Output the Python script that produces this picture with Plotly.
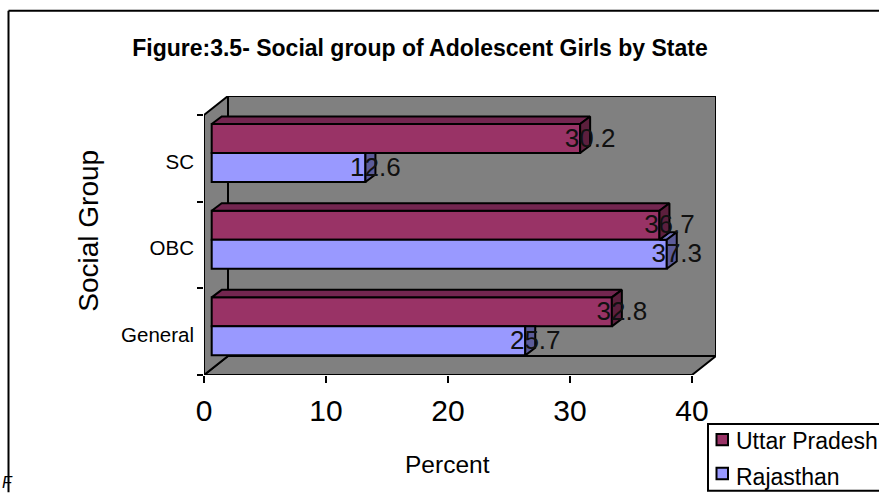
import plotly.graph_objects as go

# Chart content
categories = ["General", "OBC", "SC"]
uttar_pradesh = [32.8, 36.7, 30.2]
rajasthan = [25.7, 37.3, 12.6]
value_ticks = [0, 10, 20, 30, 40]

TITLE = "Figure:3.5- Social group of Adolescent Girls by State"
FONT = "Liberation Sans, Arial, sans-serif"

# Page and plot box in pixels
W, H = 879, 493
LEFT, RIGHT, TOP, BOTTOM = 204, 716, 96, 375.5
PX_X = 12.2      # pixels per percent
PX_Y = 86.67     # pixels per category band

# Pseudo-3D offsets, expressed in axis units
WALL_DX, WALL_DY = 24 / PX_X, 19 / PX_Y
BAR_DX, BAR_DY = 10 / PX_X, 7.5 / PX_Y
BAR_BASE = 7.7 / PX_X
BAR_W = 29 / PX_Y
UP_OFFSET = 5.3 / PX_Y
RJ_OFFSET = UP_OFFSET - BAR_W

X_MAX = (RIGHT - LEFT) / PX_X
Y_MIN = -0.5
Y_MAX = 2.5 + WALL_DY

UP_COLORS = dict(front="#993366", top="#732650", side="#5c1f3d")
RJ_COLORS = dict(front="#9999ff", top="#7373bf", side="#5c5c99")
WALL = "#808080"
EDGE = dict(color="black", width=2)


def px(x):
    return (x - LEFT) / (RIGHT - LEFT)


def py(y):
    return (BOTTOM - y) / (BOTTOM - TOP)


def path(points):
    return "M" + "L".join(f"{x},{y}" for x, y in points) + "Z"


def face(points, color):
    xs, ys = zip(*(points + points[:1]))
    return go.Scatter(
        x=xs, y=ys, yaxis="y2", mode="lines", fill="toself", fillcolor=color,
        line=EDGE, hoverinfo="skip", showlegend=False,
    )


fig = go.Figure()

series = [
    ("Uttar Pradesh", uttar_pradesh, UP_OFFSET, UP_COLORS),
    ("Rajasthan", rajasthan, RJ_OFFSET, RJ_COLORS),
]
for name, vals, offset, colors in series:
    fig.add_trace(go.Bar(
        name=name, y=categories, x=vals, base=BAR_BASE, orientation="h",
        width=BAR_W, offset=offset, showlegend=False,
        marker=dict(color=colors["front"], line=EDGE),
    ))

# Depth faces: the lower series first, so the upper one sits in front of it
for i, (up, rj) in enumerate(zip(uttar_pradesh, rajasthan)):
    rj_end = BAR_BASE + rj
    up_end = BAR_BASE + up
    rj_low = i + RJ_OFFSET
    rj_high = rj_low + BAR_W
    up_low = i + UP_OFFSET
    up_high = up_low + BAR_W
    if rj > up:
        # only the part of the top face clear of the upper bar shows
        fig.add_trace(face([(up_end, rj_high), (rj_end, rj_high),
                            (rj_end + BAR_DX, rj_high + BAR_DY),
                            (up_end + BAR_DX, rj_high + BAR_DY)], RJ_COLORS["top"]))
        side_top = rj_high + BAR_DY
        side = [(rj_end, rj_low), (rj_end + BAR_DX, rj_low + BAR_DY),
                (rj_end + BAR_DX, side_top), (rj_end, rj_high)]
    else:
        side = [(rj_end, rj_low), (rj_end + BAR_DX, rj_low + BAR_DY),
                (rj_end + BAR_DX, rj_high), (rj_end, rj_high)]
    fig.add_trace(face(side, RJ_COLORS["side"]))
    fig.add_trace(face([(BAR_BASE, up_high), (up_end, up_high),
                        (up_end + BAR_DX, up_high + BAR_DY),
                        (BAR_BASE + BAR_DX, up_high + BAR_DY)], UP_COLORS["top"]))
    fig.add_trace(face([(up_end, up_low), (up_end + BAR_DX, up_low + BAR_DY),
                        (up_end + BAR_DX, up_high + BAR_DY), (up_end, up_high)],
                       UP_COLORS["side"]))

# Value labels centred on the depth of each bar end
label_x, label_y, label_text = [], [], []
for vals, offset in [(uttar_pradesh, UP_OFFSET), (rajasthan, RJ_OFFSET)]:
    for i, v in enumerate(vals):
        label_x.append(BAR_BASE + v + BAR_DX)
        label_y.append(i + offset + BAR_W / 2 - 1.5 / PX_Y)
        label_text.append(str(v))
fig.add_trace(go.Scatter(
    x=label_x, y=label_y, yaxis="y2", mode="text", text=label_text,
    textposition="middle center", cliponaxis=False,
    textfont=dict(family=FONT, size=26, color="#111111"),
    hoverinfo="skip", showlegend=False,
))

# Walls and floor of the box, behind everything
wall_line = dict(color="black", width=2)
wall_shapes = [
    [(0, Y_MIN), (WALL_DX, Y_MIN + WALL_DY), (X_MAX, Y_MIN + WALL_DY),
     (X_MAX - WALL_DX, Y_MIN)],
    [(0, Y_MIN), (WALL_DX, Y_MIN + WALL_DY), (WALL_DX, Y_MAX), (0, 2.5)],
    [(WALL_DX, Y_MIN + WALL_DY), (X_MAX, Y_MIN + WALL_DY), (X_MAX, Y_MAX),
     (WALL_DX, Y_MAX)],
]
shapes = [
    dict(type="path", path=path(p), xref="x", yref="y2", fillcolor=WALL,
         line=wall_line, layer="below")
    for p in wall_shapes
]

# Outer frame: left and top edges only reach the page
for x0, y0, x1, y1 in [(8.5, 10.5, 8.5, H), (8.5, 10.5, W, 10.5)]:
    shapes.append(dict(type="line", xref="paper", yref="paper",
                       x0=px(x0), x1=px(x1), y0=py(y0), y1=py(y1),
                       line=dict(color="black", width=2)))

annotations = [
    dict(text="Percent", xref="paper", yref="paper", x=px(447), y=py(465),
         xanchor="center", yanchor="middle", showarrow=False,
         font=dict(family=FONT, size=24.5, color="black")),
    dict(text="Social Group", xref="paper", yref="paper", x=px(89), y=py(231),
         xanchor="center", yanchor="middle", textangle=-90, showarrow=False,
         font=dict(family=FONT, size=28, color="black")),
    dict(text="<i>F</i>", xref="paper", yref="paper", x=px(0), y=py(483),
         xanchor="left", yanchor="middle", showarrow=False,
         font=dict(family=FONT, size=16, color="black")),
]

# Legend box running off the right edge of the page
shapes.append(dict(type="rect", xref="paper", yref="paper", x0=px(708), x1=px(900),
                   y0=py(424.5), y1=py(491.5), fillcolor="white",
                   line=dict(color="black", width=2), layer="above"))
for (name, _, _, colors), row_top, text_y in zip(series, (434.5, 468.5), (442, 478)):
    shapes.append(dict(type="rect", xref="paper", yref="paper", x0=px(716.5), x1=px(728),
                       y0=py(row_top), y1=py(row_top + 11.5), fillcolor=colors["front"],
                       line=dict(color="black", width=2), layer="above"))
    annotations.append(dict(text=name, xref="paper", yref="paper", x=px(734), y=py(text_y),
                            xanchor="left", yanchor="middle", showarrow=False,
                            font=dict(family=FONT, size=23, color="black")))

fig.update_layout(
    width=W, height=H,
    margin=dict(l=LEFT, r=W - RIGHT, t=TOP, b=H - BOTTOM, autoexpand=False),
    paper_bgcolor="white", plot_bgcolor="rgba(0,0,0,0)",
    barmode="overlay", showlegend=False,
    font=dict(family=FONT, color="black"),
    title=dict(text=f"<b>{TITLE}</b>", x=420 / W, xanchor="center",
               y=1 - 48 / H, yanchor="middle",
               font=dict(family=FONT, size=23, color="black")),
    xaxis=dict(range=[0, X_MAX], tickvals=value_ticks, ticks="outside",
               ticklen=7, tickwidth=2, tickcolor="black", showgrid=False,
               zeroline=False, showline=False, ticklabelstandoff=2,
               tickfont=dict(family=FONT, size=30, color="black")),
    yaxis=dict(type="category", categoryorder="array", categoryarray=categories,
               range=[Y_MIN, Y_MAX], tickson="boundaries", ticks="outside",
               ticklen=6, tickwidth=2, tickcolor="black", showgrid=False,
               zeroline=False, showline=False, ticklabelstandoff=9,
               ticklabelshift=3,
               tickfont=dict(family=FONT, size=20.5, color="black")),
    yaxis2=dict(overlaying="y", range=[Y_MIN, Y_MAX], visible=False),
    shapes=shapes,
    annotations=annotations,
)

fig.write_html("out.html")
